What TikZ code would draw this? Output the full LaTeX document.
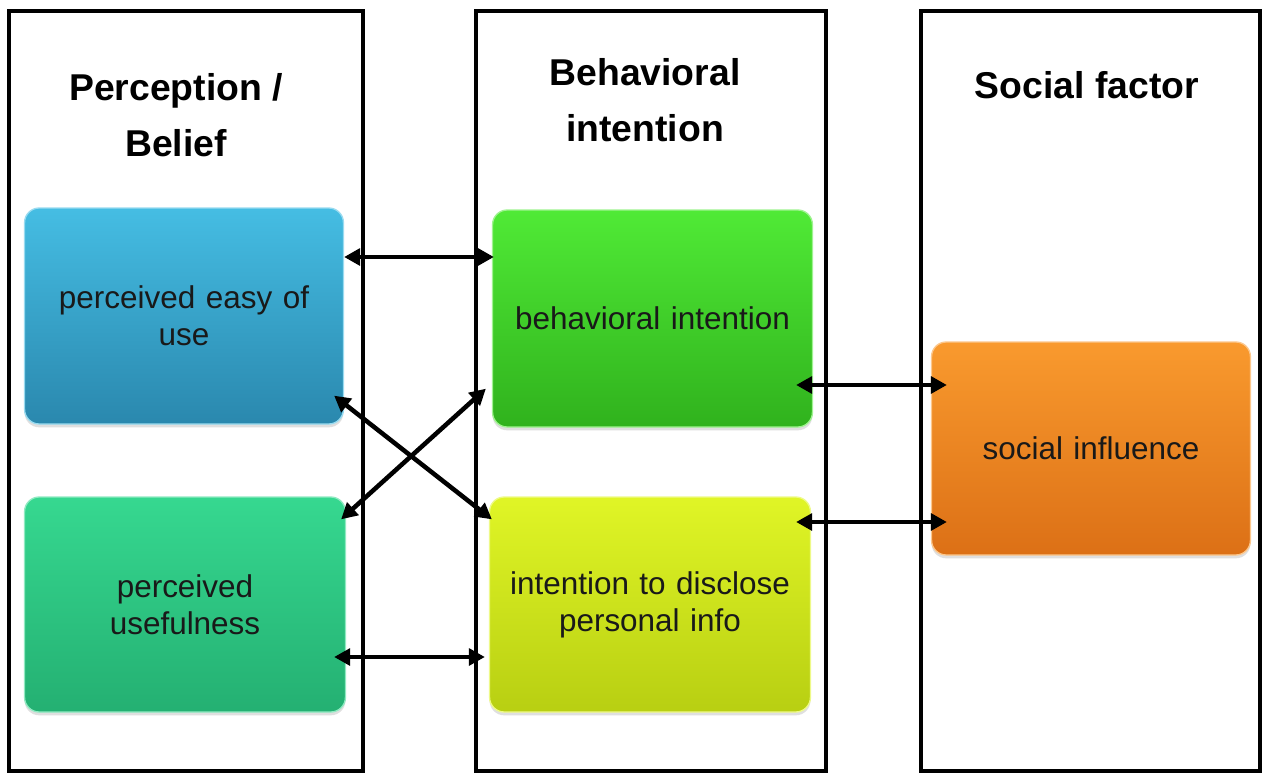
\documentclass[tikz,border=0pt]{standalone}
\usepackage{fontspec}
\setmainfont{Liberation Sans}
\usetikzlibrary{arrows.meta,calc,shadows}
\definecolor{bluetop}{HTML}{45BDE3}
\definecolor{bluebot}{HTML}{2A88AE}
\definecolor{tealtop}{HTML}{36D890}
\definecolor{tealbot}{HTML}{24B072}
\definecolor{greentop}{HTML}{50EA36}
\definecolor{greenbot}{HTML}{30B21D}
\definecolor{yeltop}{HTML}{E0F526}
\definecolor{yelbot}{HTML}{B8CF12}
\definecolor{orgtop}{HTML}{F99A2E}
\definecolor{orgbot}{HTML}{DC7016}
\begin{document}
\begin{tikzpicture}[x=0.75pt,y=-0.75pt,
  column/.style={draw=black,line width=2.9pt,fill=white,minimum width=#1*0.75pt,minimum height=760*0.75pt,inner sep=0pt},
  header/.style={font=\bfseries\fontsize{28pt}{42pt}\selectfont,align=center,text=black},
  factor/.style n args={4}{rounded corners=11pt,shading=axis,top color=#3,bottom color=#4,
     draw=#3!55!white,line width=1pt,minimum width=#1*0.75pt,minimum height=#2*0.75pt,
     align=center,text width=#1*0.75pt-6pt,text=black!90,
     font=\fontsize{23.6pt}{27.75pt}\selectfont,
     drop shadow={shadow xshift=0pt,shadow yshift=-2.5pt,opacity=0.25}},
  link/.style={{Triangle[length=12pt,width=12.5pt]}-{Triangle[length=12pt,width=12.5pt]},line width=3.4pt,black}]
\useasboundingbox (0,0) rectangle (1264,774);
\fill[white] (0,0) rectangle (1264,774);
% columns
\node[column=354] (c1) at (186,391) {};
\node[column=350] (c2) at (651,391) {};
\node[column=339] (c3) at (1090.5,391) {};
% headers
\node[header] (h1) at (176,115) {Perception /\\Belief};
\node[header] (h2) at (645,100) {Behavioral\\intention};
\node[header] (h3) at (1087,85) {Social factor};
% factor boxes
\node[factor={318}{216}{bluetop}{bluebot}] (pe) at (184,316) {perceived easy of\\use};
\node[factor={320}{215}{tealtop}{tealbot}] (pu) at (185,604.5) {perceived\\usefulness};
\node[factor={319}{217}{greentop}{greenbot}] (bi) at (652.5,318.5) {behavioral intention};
\node[factor={320}{215}{yeltop}{yelbot}] (di) at (650,604.5) {intention to disclose\\personal info};
\node[factor={318}{213}{orgtop}{orgbot}] (si) at (1091,448.5) {social influence};
% connectors
\draw[link] (pe.east |- 0,257) -- ($(bi.west |- 0,257)+(2,0)$);
\draw[link] ($(pe.south east)+(-10,-29)$) -- ($(di.north west)+(3,23)$);
\draw[link] ($(pu.north east)+(-5,23)$) -- ($(bi.south west)+(-6,-39)$);
\draw[link] ($(pu.east |- 0,657)+(-12,0)$) -- ($(di.west |- 0,657)+(-4,0)$);
\draw[link] ($(bi.east |- 0,385)+(-17,0)$) -- ($(si.west |- 0,385)+(16,0)$);
\draw[link] ($(di.east |- 0,522)+(-15,0)$) -- ($(si.west |- 0,522)+(16,0)$);
\end{tikzpicture}
\end{document}
